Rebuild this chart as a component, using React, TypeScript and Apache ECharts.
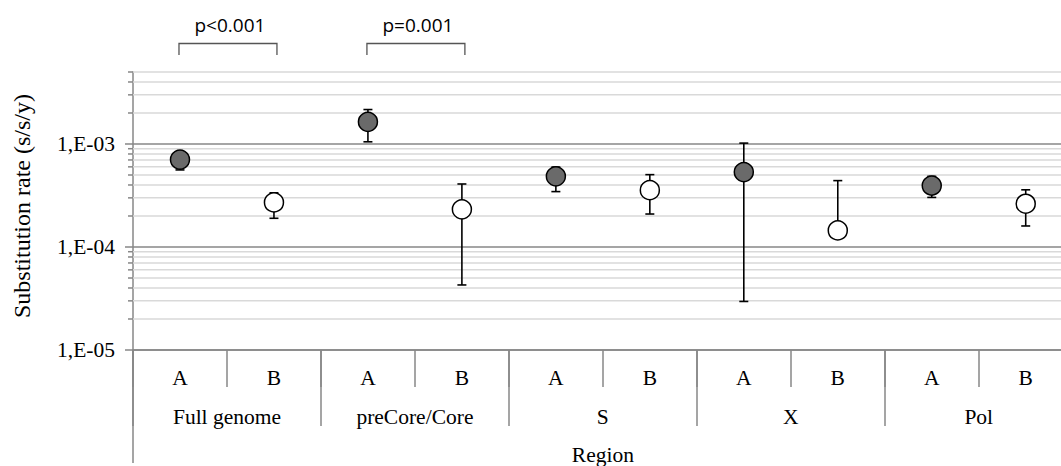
import React, { useEffect, useRef } from "react";
import * as echarts from "echarts";

// ---- data ----
const subgroups = ["A", "B", "A", "B", "A", "B", "A", "B", "A", "B"];
const regions = ["Full genome", "preCore/Core", "S", "X", "Pol"];
const regionTitle = ["Region"];

const rateA = [7.06e-4, 1.64e-3, 4.85e-4, 5.34e-4, 3.95e-4];
const lowA = [5.6e-4, 1.05e-3, 3.45e-4, 2.96e-5, 3.03e-4];
const highA = [8.0e-4, 2.16e-3, 5.97e-4, 1.02e-3, 4.85e-4];

const rateB = [2.71e-4, 2.32e-4, 3.56e-4, 1.45e-4, 2.63e-4];
const lowB = [1.9e-4, 4.28e-5, 2.09e-4, 1.25e-4, 1.6e-4];
const highB = [3.36e-4, 4.09e-4, 5.04e-4, 4.41e-4, 3.59e-4];

const pLabels = ["p<0.001", "p=0.001"];
const pPairs = [
  [0, 1],
  [2, 3],
];

// axis structure
const yMinValue = 1e-5;
const yMaxValue = 5e-3;
const decades = [-5, -4, -3];
const multipliers = [1, 2, 3, 4, 5, 6, 7, 8, 9];

const L = (v: number) => Math.log10(v);

const MAJOR = "#878787";
const MINOR = "#d9d9d9";
const SERIF = "Liberation Serif";

export default function App() {
  const ref = useRef<HTMLDivElement>(null);

  useEffect(() => {
    if (!ref.current) return;
    const chart = echarts.init(ref.current, undefined, { renderer: "svg" });

    const gridData: number[][] = [];
    decades.forEach((d) => {
      multipliers.forEach((m) => {
        const v = m * Math.pow(10, d);
        if (v <= yMaxValue * 1.0000001) gridData.push([0, L(v), m === 1 ? 1 : 0]);
      });
    });

    const errA = rateA.map((_, i) => [i * 2, L(lowA[i]), L(highA[i])]);
    const errB = rateB.map((_, i) => [i * 2 + 1, L(lowB[i]), L(highB[i])]);
    const ptsA = rateA.map((v, i) => [i * 2, L(v)]);
    const ptsB = rateB.map((v, i) => [i * 2 + 1, L(v)]);

    const errRender = (params: any, api: any) => {
      const lo = api.coord([api.value(0), api.value(1)]);
      const hi = api.coord([api.value(0), api.value(2)]);
      const x = lo[0];
      const c = 4.5;
      const st = { stroke: "#000", lineWidth: 1.6 };
      return {
        type: "group",
        children: [
          { type: "line", shape: { x1: x, y1: lo[1], x2: x, y2: hi[1] }, style: st },
          { type: "line", shape: { x1: x - c, y1: lo[1], x2: x + c, y2: lo[1] }, style: st },
          { type: "line", shape: { x1: x - c, y1: hi[1], x2: x + c, y2: hi[1] }, style: st },
        ],
      };
    };

    const option: any = {
      animation: false,
      grid: { left: 133, top: 72, width: 939.7, height: 281 },
      xAxis: [
        {
          type: "category",
          data: subgroups,
          position: "bottom",
          boundaryGap: true,
          axisLine: { show: true, lineStyle: { color: MAJOR, width: 1.5 } },
          axisTick: { show: true, interval: 0, length: 37, lineStyle: { color: MAJOR, width: 1.5 } },
          axisLabel: { interval: 0, margin: 17, fontFamily: SERIF, fontSize: 21.5, color: "#000" },
          splitLine: { show: false },
        },
        {
          type: "category",
          data: regions,
          position: "bottom",
          boundaryGap: true,
          axisLine: { show: false },
          axisTick: { show: true, interval: 0, length: 76, lineStyle: { color: MAJOR, width: 1.5 } },
          axisLabel: { interval: 0, margin: 56, fontFamily: SERIF, fontSize: 21.5, color: "#000" },
          splitLine: { show: false },
        },
        {
          type: "category",
          data: regionTitle,
          position: "bottom",
          boundaryGap: true,
          axisLine: { show: false },
          axisTick: { show: true, interval: 0, length: 113, lineStyle: { color: MAJOR, width: 1.5 } },
          axisLabel: { interval: 0, margin: 94, fontFamily: SERIF, fontSize: 21.5, color: "#000" },
          splitLine: { show: false },
        },
      ],
      yAxis: {
        type: "value",
        min: L(yMinValue),
        max: L(yMaxValue),
        interval: 1,
        name: "Substitution rate (s/s/y)",
        nameLocation: "middle",
        nameGap: 99,
        nameTextStyle: {
          fontFamily: SERIF,
          fontSize: 24,
          color: "#000",
          padding: [0, 0, 0, 10],
        },
        axisLine: { show: true, lineStyle: { color: MAJOR, width: 1.5 } },
        axisTick: { show: false },
        splitLine: { show: false },
        axisLabel: {
          margin: 18,
          fontFamily: SERIF,
          fontSize: 21.5,
          color: "#000",
          showMaxLabel: false,
          formatter: (v: number) => {
            const r = Math.round(v);
            if (Math.abs(v - r) > 1e-6) return "";
            const e = Math.abs(r);
            return "1,E-" + (e < 10 ? "0" + e : String(e));
          },
        },
      },
      series: [
        {
          type: "custom",
          z: 1,
          silent: true,
          data: gridData,
          encode: { x: 0, y: 1 },
          renderItem: (params: any, api: any) => {
            const y = api.coord([0, api.value(1)])[1];
            const major = api.value(2) === 1;
            const cs = params.coordSys;
            return {
              type: "group",
              children: [
                {
                  type: "line",
                  shape: { x1: cs.x, y1: y, x2: cs.x + cs.width, y2: y },
                  style: { stroke: major ? MAJOR : MINOR, lineWidth: 1.5 },
                },
                {
                  type: "line",
                  shape: { x1: cs.x - (major ? 8 : 5), y1: y, x2: cs.x, y2: y },
                  style: { stroke: MAJOR, lineWidth: 1.5 },
                },
              ],
            };
          },
        },
        {
          type: "custom",
          z: 3,
          data: errA,
          encode: { x: 0, y: [1, 2] },
          renderItem: errRender,
        },
        {
          type: "custom",
          z: 3,
          data: errB,
          encode: { x: 0, y: [1, 2] },
          renderItem: errRender,
        },
        {
          type: "scatter",
          z: 4,
          data: ptsA,
          symbol: "circle",
          symbolSize: 19,
          itemStyle: { color: "#6a6a6a", borderColor: "#000", borderWidth: 1.5, opacity: 1 },
        },
        {
          type: "scatter",
          z: 4,
          data: ptsB,
          symbol: "circle",
          symbolSize: 19,
          itemStyle: { color: "#ffffff", borderColor: "#000", borderWidth: 1.5, opacity: 1 },
        },
        {
          type: "custom",
          z: 5,
          silent: true,
          data: pPairs.map((p) => [p[0], -3]),
          encode: { x: 0, y: 1 },
          renderItem: (params: any, api: any) => {
            const pair = pPairs[params.dataIndex];
            const cs = params.coordSys;
            const x1 = api.coord([pair[0], -3])[0] - 1;
            const x2 = api.coord([pair[1], -3])[0] + 3;
            const yt = cs.y - 28.5;
            const yb = cs.y - 17;
            return {
              type: "group",
              children: [
                {
                  type: "polyline",
                  shape: { points: [[x1, yb], [x1, yt], [x2, yt], [x2, yb]] },
                  style: { stroke: "#555", lineWidth: 1.3, fill: "none" },
                },
                {
                  type: "text",
                  style: {
                    text: pLabels[params.dataIndex],
                    x: (x1 + x2) / 2 + 2,
                    y: cs.y - 47.5,
                    align: "center",
                    verticalAlign: "middle",
                    fontFamily: "Open Sans",
                    fontSize: 19,
                    fill: "#000",
                  },
                },
              ],
            };
          },
        },
      ],
    };

    chart.setOption(option);
    return () => chart.dispose();
  }, []);

  return (
    <div
      style={{
        position: "absolute",
        left: 0,
        top: 0,
        width: 1061,
        height: 466,
        overflow: "hidden",
        background: "#fff",
      }}
    >
      <div ref={ref} style={{ width: 1080, height: 466 }} />
    </div>
  );
}
